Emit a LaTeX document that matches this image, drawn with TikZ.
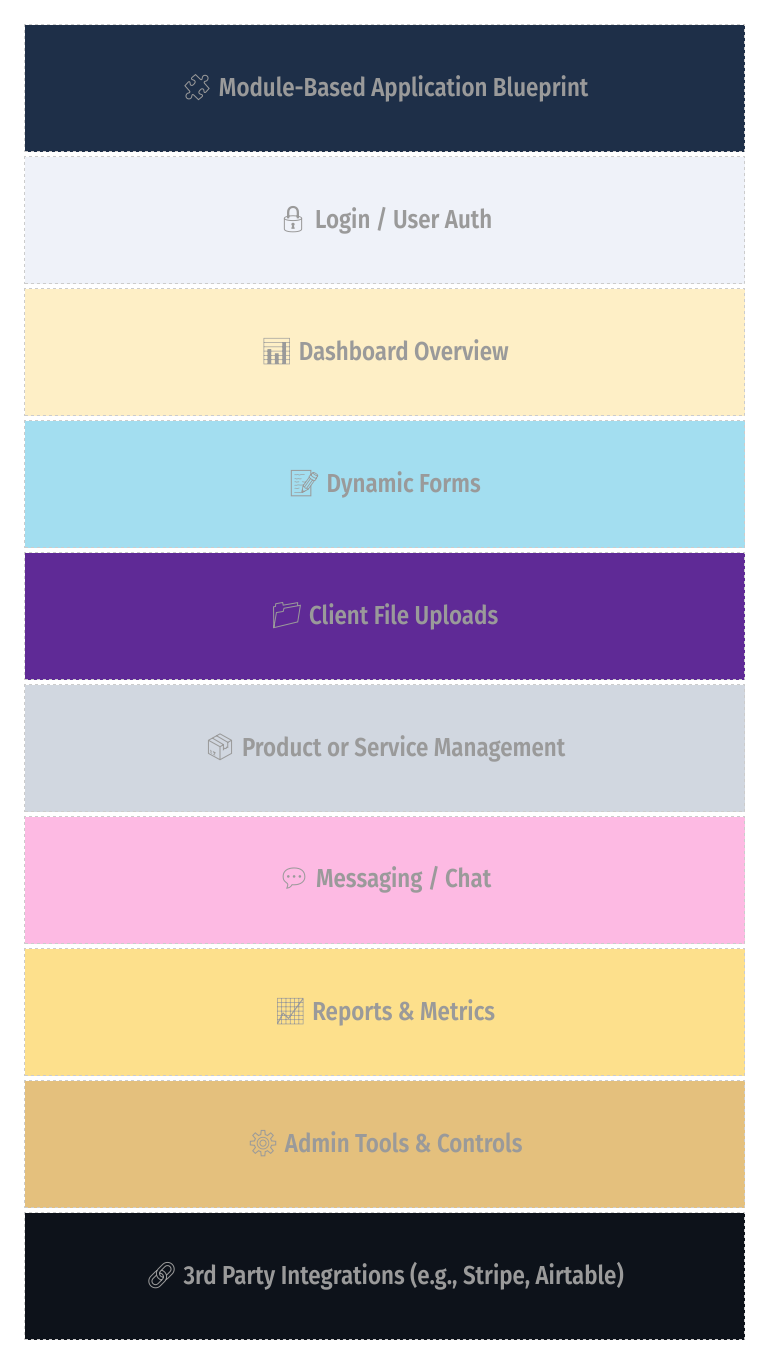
\documentclass[tikz,border=0pt]{standalone}
\usepackage{fontspec}
\setmainfont[FakeStretch=0.86]{Fira Sans SemiBold}
\newfontfamily\emo{Noto Emoji}
\definecolor{c1}{HTML}{1E2F48}\definecolor{c2}{HTML}{EFF2F9}
\definecolor{c3}{HTML}{FEEFC6}\definecolor{c4}{HTML}{A3DEF0}
\definecolor{c5}{HTML}{5F2A96}\definecolor{c6}{HTML}{D1D7E0}
\definecolor{c7}{HTML}{FDBAE3}\definecolor{c8}{HTML}{FDE08C}
\definecolor{c9}{HTML}{E4C07D}\definecolor{c10}{HTML}{0D121A}
\definecolor{txt}{HTML}{9A9A9A}\definecolor{bd}{HTML}{CCCCCC}
\begin{document}
\begin{tikzpicture}[x=1pt,y=-1pt,
  modbox/.style={draw=bd,dashed,line width=1pt,minimum width=720pt,minimum height=127pt,inner sep=0pt,anchor=north west,text=txt,font=\fontsize{26}{30}\selectfont}]
\useasboundingbox (0,0) rectangle (768,1366);
\fill[white] (0,0) rectangle (768,1366);
\foreach \i/\c/\e/\t in {0/c1/🧩/{Module-Based Application Blueprint},1/c2/🔒/{Login / User Auth},2/c3/📊/{Dashboard Overview},3/c4/📝/{Dynamic Forms},4/c5/📁/{Client File Uploads},5/c6/📦/{Product or Service Management},6/c7/💬/{Messaging / Chat},7/c8/📈/{Reports \& Metrics},8/c9/⚙/{Admin Tools \& Controls},9/c10/🔗/{3rd Party Integrations (e.g., Stripe, Airtable)}}{
  \node[modbox,fill=\c] (m\i) at (24,{24+132*\i}) {{\emo\e} \t};
}
\end{tikzpicture}
\end{document}
